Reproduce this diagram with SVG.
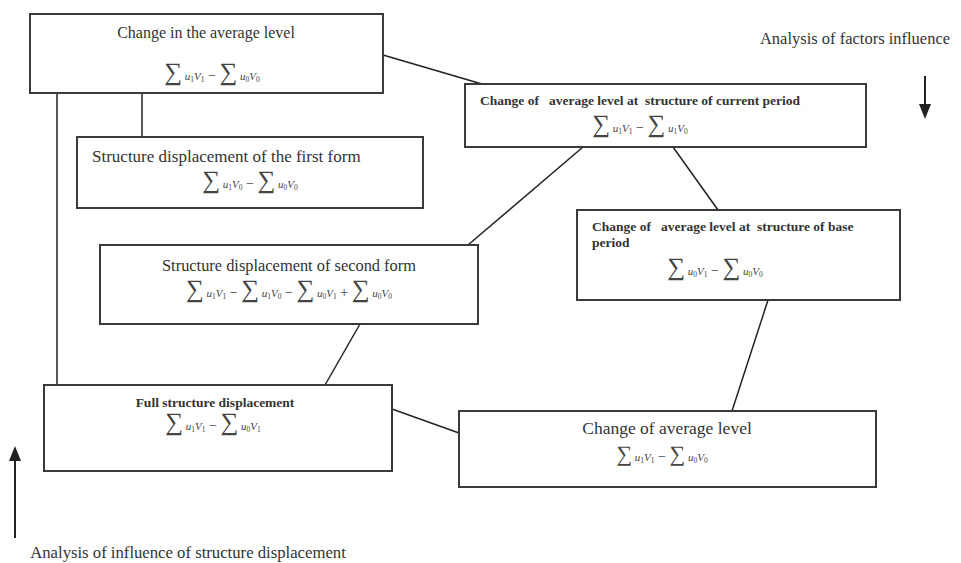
<svg xmlns="http://www.w3.org/2000/svg" width="961" height="563" viewBox="0 0 961 563">
<style>
.box{fill:#fff;stroke:#3a3a3a;stroke-width:2}
.t{font-family:"Liberation Serif","Times New Roman",serif;fill:#333;white-space:pre}
.tb{font-family:"Liberation Serif","Times New Roman",serif;fill:#333;font-weight:bold;font-size:13.5px;white-space:pre}
.f{font-family:"Liberation Serif","Times New Roman",serif;fill:#444;font-size:11px;font-style:italic}
.s{font-size:25px;font-style:normal}
.b{font-size:7.5px;font-style:normal}
.m{font-style:normal;font-size:14px}
.ln{stroke:#222;stroke-width:1.5;fill:none}
.ar{stroke:#222;stroke-width:2;fill:none}
.hd{fill:#222}
</style>
<rect width="961" height="563" fill="#fff"/>
<g id="connectors">
<line class="ln" x1="383" y1="55" x2="482" y2="84"/>
<line class="ln" x1="142" y1="93" x2="142" y2="137"/>
<line class="ln" x1="57" y1="93" x2="57" y2="385"/>
<line class="ln" x1="583" y1="147" x2="468" y2="245"/>
<line class="ln" x1="673" y1="147" x2="718" y2="210"/>
<line class="ln" x1="360" y1="324" x2="325" y2="385"/>
<line class="ln" x1="768" y1="300" x2="732" y2="411"/>
<line class="ln" x1="392" y1="409" x2="459" y2="433"/>
</g>
<g id="n1">
<rect class="box" x="30" y="14" width="353" height="79"/>
<text class="t" x="206" y="38" font-size="16" text-anchor="middle">Change in the average level</text>
<text class="f" x="212" y="80" text-anchor="middle"><tspan class="s">∑</tspan><tspan> u</tspan><tspan class="b" dy="2">1</tspan><tspan dy="-2">V</tspan><tspan class="b" dy="2">1</tspan><tspan class="m" dy="-2"> − </tspan><tspan class="s">∑</tspan><tspan> u</tspan><tspan class="b" dy="2">0</tspan><tspan dy="-2">V</tspan><tspan class="b" dy="2">0</tspan></text>
</g>
<g id="n2">
<rect class="box" x="465" y="84" width="401" height="63"/>
<text class="tb" x="480" y="105">Change of   average level at  structure of current period</text>
<text class="f" x="640" y="132" text-anchor="middle"><tspan class="s">∑</tspan><tspan> u</tspan><tspan class="b" dy="2">1</tspan><tspan dy="-2">V</tspan><tspan class="b" dy="2">1</tspan><tspan class="m" dy="-2"> − </tspan><tspan class="s">∑</tspan><tspan> u</tspan><tspan class="b" dy="2">1</tspan><tspan dy="-2">V</tspan><tspan class="b" dy="2">0</tspan></text>
</g>
<g id="n3">
<rect class="box" x="77" y="137" width="346" height="71"/>
<text class="t" x="92" y="162" font-size="17">Structure displacement of the first form</text>
<text class="f" x="250" y="188" text-anchor="middle"><tspan class="s">∑</tspan><tspan> u</tspan><tspan class="b" dy="2">1</tspan><tspan dy="-2">V</tspan><tspan class="b" dy="2">0</tspan><tspan class="m" dy="-2"> − </tspan><tspan class="s">∑</tspan><tspan> u</tspan><tspan class="b" dy="2">0</tspan><tspan dy="-2">V</tspan><tspan class="b" dy="2">0</tspan></text>
</g>
<g id="n4">
<rect class="box" x="100" y="245" width="378" height="79"/>
<text class="t" x="289" y="271" font-size="16.4" text-anchor="middle">Structure displacement of second form</text>
<text class="f" x="289" y="297" text-anchor="middle"><tspan class="s">∑</tspan><tspan> u</tspan><tspan class="b" dy="2">1</tspan><tspan dy="-2">V</tspan><tspan class="b" dy="2">1</tspan><tspan class="m" dy="-2"> − </tspan><tspan class="s">∑</tspan><tspan> u</tspan><tspan class="b" dy="2">1</tspan><tspan dy="-2">V</tspan><tspan class="b" dy="2">0</tspan><tspan class="m" dy="-2"> − </tspan><tspan class="s">∑</tspan><tspan> u</tspan><tspan class="b" dy="2">0</tspan><tspan dy="-2">V</tspan><tspan class="b" dy="2">1</tspan><tspan class="m" dy="-2"> + </tspan><tspan class="s">∑</tspan><tspan> u</tspan><tspan class="b" dy="2">0</tspan><tspan dy="-2">V</tspan><tspan class="b" dy="2">0</tspan></text>
</g>
<g id="n5">
<rect class="box" x="577" y="210" width="323" height="90"/>
<text class="tb" x="592" y="231">Change of   average level at  structure of base</text>
<text class="tb" x="592" y="247">period</text>
<text class="f" x="715" y="275" text-anchor="middle"><tspan class="s">∑</tspan><tspan> u</tspan><tspan class="b" dy="2">0</tspan><tspan dy="-2">V</tspan><tspan class="b" dy="2">1</tspan><tspan class="m" dy="-2"> − </tspan><tspan class="s">∑</tspan><tspan> u</tspan><tspan class="b" dy="2">0</tspan><tspan dy="-2">V</tspan><tspan class="b" dy="2">0</tspan></text>
</g>
<g id="n6">
<rect class="box" x="44" y="385" width="348" height="86"/>
<text class="tb" x="215" y="407" text-anchor="middle">Full structure displacement</text>
<text class="f" x="213" y="430" text-anchor="middle"><tspan class="s">∑</tspan><tspan> u</tspan><tspan class="b" dy="2">1</tspan><tspan dy="-2">V</tspan><tspan class="b" dy="2">1</tspan><tspan class="m" dy="-2"> − </tspan><tspan class="s">∑</tspan><tspan> u</tspan><tspan class="b" dy="2">0</tspan><tspan dy="-2">V</tspan><tspan class="b" dy="2">1</tspan></text>
</g>
<g id="n7">
<rect class="box" x="459" y="411" width="417" height="76"/>
<text class="t" x="667" y="434" font-size="17.5" text-anchor="middle">Change of average level</text>
<text class="f" x="662" y="461" text-anchor="middle"><tspan class="s" style="font-size:22px">∑</tspan><tspan> u</tspan><tspan class="b" dy="2">1</tspan><tspan dy="-2">V</tspan><tspan class="b" dy="2">1</tspan><tspan class="m" dy="-2"> − </tspan><tspan class="s" style="font-size:22px">∑</tspan><tspan> u</tspan><tspan class="b" dy="2">0</tspan><tspan dy="-2">V</tspan><tspan class="b" dy="2">0</tspan></text>
</g>
<g id="labels">
<text class="t" x="855" y="44" font-size="16.5" text-anchor="middle">Analysis of factors influence</text>
<line class="ar" x1="925" y1="76" x2="925" y2="106"/>
<polygon class="hd" points="919,104 931,104 925,119"/>
<line class="ar" x1="15" y1="538" x2="15" y2="458"/>
<polygon class="hd" points="9,461 21,461 15,446"/>
<text class="t" x="188" y="558" font-size="16.7" text-anchor="middle">Analysis of influence of structure displacement</text>
</g>
</svg>
